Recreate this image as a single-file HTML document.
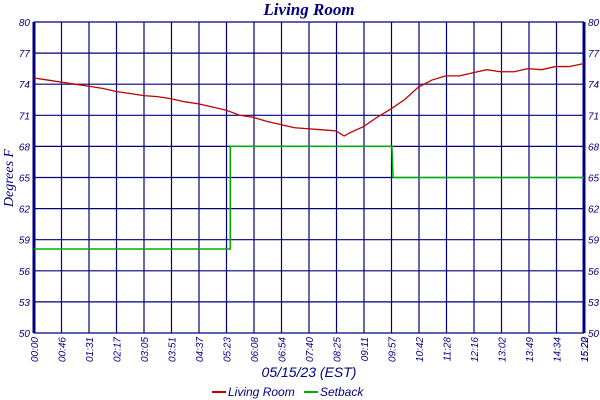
<!DOCTYPE html>
<html><head><meta charset="utf-8">
<style>
body{margin:0;background:#fff;}
svg{display:block;font-family:"Liberation Sans",sans-serif;}
</style></head>
<body>
<svg id="chart" width="600" height="400" viewBox="0 0 600 400" xmlns="http://www.w3.org/2000/svg">
<text x="309" y="15" text-anchor="middle" font-size="17" font-style="italic" font-weight="bold" font-family="Liberation Serif, serif" fill="#000080">Living Room</text>
<text transform="translate(13,178) rotate(-90)" text-anchor="middle" font-size="14" font-style="italic" font-family="Liberation Serif, serif" fill="#000080">Degrees F</text>
<text x="309" y="377" text-anchor="middle" font-size="14" font-style="italic" fill="#000080">05/15/23 (EST)</text>
<g>
<line x1="212" y1="392" x2="226" y2="392" stroke="#c00000" stroke-width="2"/>
<text x="228" y="396" font-size="12" font-style="italic" fill="#000080">Living Room</text>
<line x1="304" y1="392" x2="318" y2="392" stroke="#00b000" stroke-width="2"/>
<text x="320" y="396" font-size="12" font-style="italic" fill="#000080">Setback</text>
</g>
<g id="grid"></g>
<g id="series"></g>
</svg>
<script>
const yTicks = [80,77,74,71,68,65,62,59,56,53,50];
const xTickLabels = ["00:00","00:46","01:31","02:17","03:05","03:51","04:37","05:23","06:08","06:54","07:40","08:25","09:11","09:57","10:42","11:28","12:16","13:02","13:49","14:34","15:20"];
const roomMinutes = [0,23,46,69,92,115,138,161,184,207,230,253,276,299,322,345,368,391,414,437,460,483,506,520,529,552,575,598,621,644,667,690,713,736,759,782,805,828,851,874,897,922];
const roomTemps = [74.6,74.4,74.2,74.0,73.8,73.6,73.3,73.1,72.9,72.8,72.6,72.3,72.1,71.8,71.5,71.0,70.8,70.4,70.1,69.8,69.7,69.6,69.5,69.0,69.3,69.9,70.8,71.6,72.5,73.7,74.4,74.8,74.8,75.1,75.4,75.2,75.2,75.5,75.4,75.7,75.7,76.0];
const setbackMinutes = [0,329,329,600,602,922];
const setbackTemps = [58.1,58.1,68,68,65,65];

const X0=34,X1=584,Y0=22,Y1=333,TMAX=922;
const xs=t=>X0+(t/TMAX)*(X1-X0);
const ys=v=>Y0+(80-v)/30*(Y1-Y0);
const NS="http://www.w3.org/2000/svg";
const grid=document.getElementById('grid'), ser=document.getElementById('series');
function mk(tag,attrs,parent){const e=document.createElementNS(NS,tag);for(const k in attrs)e.setAttribute(k,attrs[k]);parent.appendChild(e);return e;}
yTicks.forEach(v=>{
  const y=ys(v);
  const l=mk('line',{x1:X0,x2:X1,y1:y,y2:y,stroke:'#000080','stroke-width':1.2},grid);
  
  
  const a=mk('text',{x:X0-4,y:y+4,'text-anchor':'end','font-size':10,'font-style':'italic',fill:'#000080'},grid);
  a.textContent=v;
  
  
  const b=mk('text',{x:X1+4,y:y+4,'font-size':10,'font-style':'italic',fill:'#000080'},grid);
  b.textContent=v;
  
  
});
xTickLabels.forEach((s,i)=>{
  const x=X0+i*(X1-X0)/(xTickLabels.length-1);
  const l=mk('line',{x1:x,x2:x,y1:Y0,y2:Y1,stroke:'#000080','stroke-width':1.2},grid);
  
  
  const t=mk('text',{transform:`translate(${x+4},${Y1+4}) rotate(-90)`,'text-anchor':'end','font-size':10,'font-style':'italic',fill:'#000080'},grid);
  t.textContent=s;
  
  
});
const t2=mk('text',{transform:`translate(${X1+4},${Y1+4}) rotate(-90)`,'text-anchor':'end','font-size':10,'font-style':'italic',fill:'#000080'},grid);
t2.textContent="15:22";


const la=mk('line',{x1:X0,x2:X0,y1:Y0,y2:Y1,stroke:'#000080','stroke-width':3},grid);


const ra=mk('line',{x1:X1,x2:X1,y1:Y0,y2:Y1,stroke:'#000080','stroke-width':3},grid);


const sp=mk('polyline',{points:setbackMinutes.map((t,i)=>xs(t)+','+ys(setbackTemps[i])).join(' '),fill:'none',stroke:'#00b000','stroke-width':1.5},ser);


const n=Math.min(roomMinutes.length,roomTemps.length);
const rp=mk('polyline',{points:roomMinutes.slice(0,n).map((t,i)=>xs(t)+','+ys(roomTemps[i])).join(' '),fill:'none',stroke:'#c00000','stroke-width':1.3},ser);


</script>
</body></html>
